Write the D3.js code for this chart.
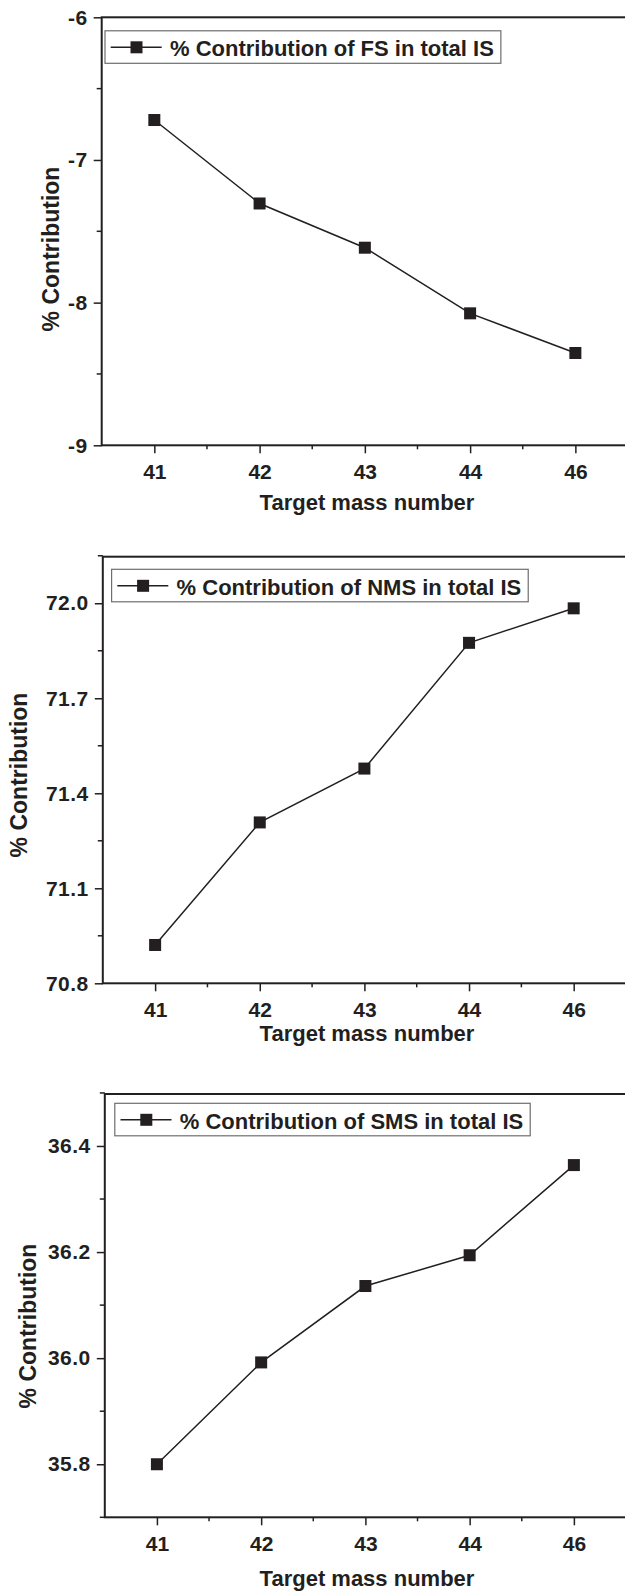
<!DOCTYPE html>
<html>
<head>
<meta charset="utf-8">
<script src="https://cdn.jsdelivr.net/npm/d3@7"></script>
<style>
  html, body { margin: 0; padding: 0; background: #fff; }
  svg { display: block; }
  text { font-family: "Liberation Sans", Arial, sans-serif; font-weight: bold; fill: #231f20; }
</style>
</head>
<body>
<svg id="chart" width="625" height="1593"></svg>
<script>
// ---------- data ----------
const categories = ["41", "42", "43", "44", "46"];
const fsValues  = [-6.72, -7.305, -7.615, -8.075, -8.353];
const nmsValues = [70.921, 71.308, 71.478, 71.875, 71.984];
const smsValues = [35.80, 35.992, 36.136, 36.194, 36.364];

const fsTicks  = [-9, -8, -7, -6];
const fsMinor  = [-8.5, -7.5, -6.5];
const nmsTicks = [70.8, 71.1, 71.4, 71.7, 72.0];
const nmsMinor = [70.95, 71.25, 71.55, 71.85, 72.15];
const smsTicks = [35.8, 36.0, 36.2, 36.4];
const smsMinor = [35.7, 35.9, 36.1, 36.3, 36.5];

const legendLabels = [
  "% Contribution of FS in total IS",
  "% Contribution of NMS in total IS",
  "% Contribution of SMS in total IS"
];
const xTitle = "Target mass number";
const yTitle = "% Contribution";

// ---------- layout ----------
const ink = "#231f20";
const panels = [
  { values: fsValues, ticks: fsTicks, minor: fsMinor, domain: [-9, -6], fmt: v => String(v),
    left: 101.7, right: 628, top: 17.3, bottom: 445.3,
    legDx: 3.3, legDy: 13.5, yTitleX: 51, yTitleY: 249, xTitleY: 509.5, legend: legendLabels[0] },
  { values: nmsValues, ticks: nmsTicks, minor: nmsMinor, domain: [70.8, 72.147], fmt: v => v.toFixed(1),
    left: 102.8, right: 626, top: 556.7, bottom: 983.3,
    legDx: 8.8, legDy: 12.6, yTitleX: 19, yTitleY: 775, xTitleY: 1041, legend: legendLabels[1] },
  { values: smsValues, ticks: smsTicks, minor: smsMinor, domain: [35.7, 36.498], fmt: v => v.toFixed(1),
    left: 104.8, right: 626, top: 1094, bottom: 1517.3,
    legDx: 10, legDy: 9.3, yTitleX: 28, yTitleY: 1326, xTitleY: 1586, legend: legendLabels[2] }
];

const svg = d3.select("#chart");

panels.forEach(p => {
  const g = svg.append("g");
  const x = d3.scalePoint().domain(categories).range([p.left, p.right]).padding(0.5);
  const y = d3.scaleLinear().domain(p.domain).range([p.bottom, p.top]);
  const step = x.step();

  // minor ticks (y)
  g.append("g").selectAll("line").data(p.minor).join("line")
    .attr("x1", p.left - 5).attr("x2", p.left)
    .attr("y1", d => y(d)).attr("y2", d => y(d))
    .attr("stroke", ink).attr("stroke-width", 1.5);
  // minor ticks (x)
  g.append("g").selectAll("line").data(categories.slice(0, -1)).join("line")
    .attr("x1", d => x(d) + step / 2).attr("x2", d => x(d) + step / 2)
    .attr("y1", p.bottom).attr("y2", p.bottom + 4)
    .attr("stroke", ink).attr("stroke-width", 1.5);

  // y axis
  const ya = g.append("g").attr("transform", `translate(${p.left},0)`)
    .call(d3.axisLeft(y).tickValues(p.ticks).tickSize(8).tickPadding(6).tickFormat(p.fmt));
  ya.select(".domain").remove();
  ya.selectAll(".tick line").attr("stroke", ink).attr("stroke-width", 1.5);
  ya.selectAll(".tick text").attr("font-size", 21).attr("font-family", null).attr("fill", ink)
    .attr("letter-spacing", 0.5);

  // x axis
  const xa = g.append("g").attr("transform", `translate(0,${p.bottom})`)
    .call(d3.axisBottom(x).tickSize(8).tickPadding(11));
  xa.select(".domain").remove();
  xa.selectAll(".tick line").attr("stroke", ink).attr("stroke-width", 1.5);
  xa.selectAll(".tick text").attr("font-size", 21).attr("font-family", null).attr("fill", ink);

  // frame
  g.append("rect")
    .attr("x", p.left).attr("y", p.top)
    .attr("width", p.right - p.left).attr("height", p.bottom - p.top)
    .attr("fill", "none").attr("stroke", ink).attr("stroke-width", 2);

  // data line
  const pts = categories.map((c, i) => [x(c), y(p.values[i])]);
  g.append("path").attr("d", d3.line()(pts))
    .attr("fill", "none").attr("stroke", ink).attr("stroke-width", 1.5);
  g.append("g").selectAll("rect").data(pts).join("rect")
    .attr("x", d => d[0] - 6).attr("y", d => d[1] - 6)
    .attr("width", 12).attr("height", 12).attr("fill", ink);

  // legend
  const lx = p.left + p.legDx, ly = p.top + p.legDy;
  const lg = g.append("g");
  const box = lg.append("rect").attr("x", lx).attr("y", ly).attr("height", 32.5)
    .attr("fill", "#fff").attr("stroke", "#6d6e70").attr("stroke-width", 1.2);
  lg.append("line").attr("x1", lx + 5.7).attr("x2", lx + 56.7)
    .attr("y1", ly + 16.5).attr("y2", ly + 16.5).attr("stroke", ink).attr("stroke-width", 1.5);
  lg.append("rect").attr("x", lx + 25.5).attr("y", ly + 10.5).attr("width", 12).attr("height", 12).attr("fill", ink);
  const lt = lg.append("text").attr("x", lx + 65).attr("y", ly + 25.3)
    .attr("font-size", 22).text(p.legend);
  box.attr("width", lt.node().getComputedTextLength() + 72);

  // titles
  g.append("text").attr("transform", `translate(${p.yTitleX},${p.yTitleY}) rotate(-90)`)
    .attr("text-anchor", "middle").attr("dominant-baseline", "central")
    .attr("font-size", 23).text(yTitle);
  g.append("text").attr("x", 367).attr("y", p.xTitleY)
    .attr("text-anchor", "middle").attr("font-size", 22).text(xTitle);
});
</script>
</body>
</html>
